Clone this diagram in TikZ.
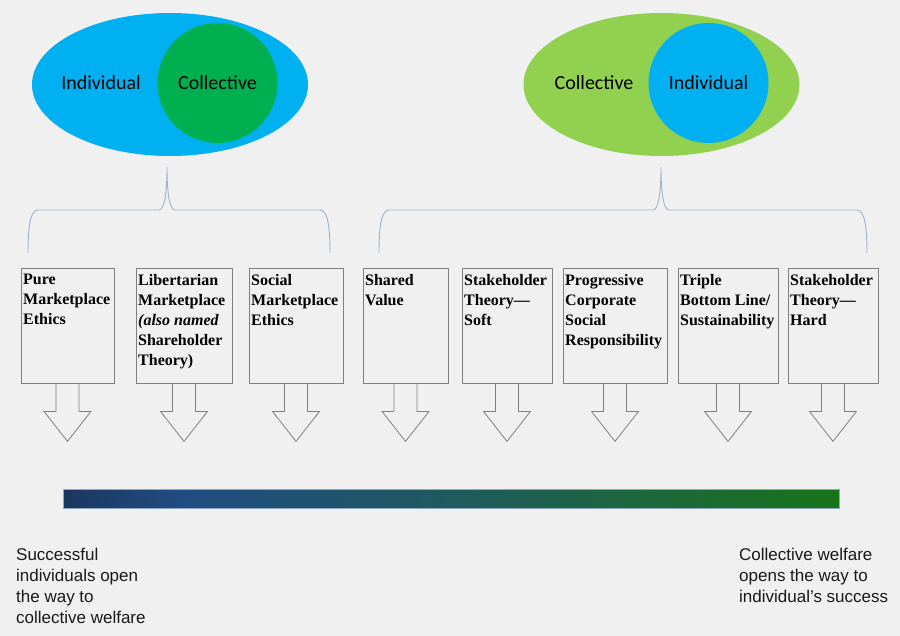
\documentclass[tikz,border=0pt]{standalone}
\usepackage{fontspec}
\setmainfont{Liberation Serif}
\newfontfamily\calfont{Carlito}
\newfontfamily\arialfont{Liberation Sans}
\usetikzlibrary{shapes.geometric}
\definecolor{bg}{HTML}{F0F0F0}
\definecolor{cblue}{HTML}{00B0F0}
\definecolor{cgreen}{HTML}{00B050}
\definecolor{lgreen}{HTML}{92D050}
\definecolor{bracecol}{HTML}{9DB3CC}
\definecolor{boxline}{HTML}{7F7F7F}
\definecolor{barA}{HTML}{1B365F}
\definecolor{barB}{HTML}{214C82}
\definecolor{barC}{HTML}{1F5A5E}
\definecolor{barD}{HTML}{18741A}
\definecolor{barline}{HTML}{8EA9C8}
\pgfdeclarehorizontalshading{barshade}{100bp}{color(0bp)=(barA); color(25bp)=(barA); color(32.5bp)=(barB); color(50bp)=(barC); color(75bp)=(barD); color(100bp)=(barD)}
\tikzset{
  ell/.style={ellipse, inner sep=0pt, minimum width=276pt, minimum height=143pt},
  circ/.style={circle, inner sep=0pt, minimum size=120pt, font=\calfont\fontsize{20}{24}\selectfont},
  elltxt/.style={inner sep=0pt, font=\calfont\fontsize{20}{24}\selectfont},
  bracest/.style={draw=bracecol, line width=0.9pt},
  calbox/.style={draw=boxline, line width=0.8pt, rectangle, inner sep=0pt, minimum height=115pt},
  calline/.style={draw=boxline, line width=0.8pt, line join=miter},
  boxtxt/.style={anchor=north west, inner sep=0pt, align=left, font=\fontsize{16}{20}\selectfont\bfseries},
  bottxt/.style={anchor=north west, inner sep=0pt, align=left, text=black!90, font=\arialfont\fontsize{17}{21}\selectfont},
}
\newcommand\callout[4]{%
  \node[calbox, minimum width=#3pt-#2pt] (#1) at ({(#2+#3)/2},325.5) {};
  \node[boxtxt] (#1t) at (#2+2,274) {#4};
  \draw[calline] (#1.south) ++(-11.5,0) -- ++(0,28) -- ++(-12,0) -- ++(23.5,30) -- ++(23.5,-30) -- ++(-12,0) -- ++(0,-28);
}
\begin{document}
\begin{tikzpicture}[x=1pt,y=-1pt]
\fill[bg] (0,0) rectangle (900,636);
\useasboundingbox (0,0) rectangle (900,636);
% left ellipse
\node[ell, fill=cblue] (LE) at (170,84.5) {};
\node[circ, fill=cgreen] (LC) at (217.5,83) {Collective};
\node[elltxt] (LI) at (101,83) {Individual};
% right ellipse
\node[ell, fill=lgreen] (RE) at (661.5,84.5) {};
\node[circ, fill=cblue] (RC) at (708.5,83) {Individual};
\node[elltxt] (RI) at (594,83) {Collective};
% braces
\coordinate (LB1) at (28,253);
\coordinate (LBt) at (167,167);
\coordinate (LB2) at (330,253);
\draw[bracest] (LB1) .. controls (28,228) and (30,210) .. (38,210) -- (159,210)
  .. controls (164,210) and (167,195) .. (LBt)
  .. controls (167,195) and (170,210) .. (175,210) -- (320,210)
  .. controls (328,210) and (330,228) .. (LB2);
\coordinate (RB1) at (379,253);
\coordinate (RBt) at (661,167);
\coordinate (RB2) at (867,253);
\draw[bracest] (RB1) .. controls (379,228) and (381,210) .. (389,210) -- (653,210)
  .. controls (658,210) and (661,195) .. (RBt)
  .. controls (661,195) and (664,210) .. (669,210) -- (857,210)
  .. controls (865,210) and (867,228) .. (RB2);
% callouts
\callout{b1}{21}{114}{Pure\\Marketplace\\Ethics}
\callout{b2}{136}{232}{Libertarian\\Marketplace\\\textit{(also named}\\Shareholder\\Theory)}
\callout{b3}{249}{343}{Social\\Marketplace\\Ethics}
\callout{b4}{363}{448}{Shared\\Value}
\callout{b5}{462}{552}{Stakeholder\\Theory—\\Soft}
\callout{b6}{563}{667}{Progressive\\Corporate\\Social\\Responsibility}
\callout{b7}{678}{778}{Triple\\Bottom Line/\\Sustainability}
\callout{b8}{788}{878}{Stakeholder\\Theory—\\Hard}
% gradient bar
\shade[shading=barshade, draw=barline, line width=0.8pt] (63,489) rectangle (839,508);
% bottom texts
\node[bottxt] (tl) at (16,548) {Successful\\individuals open\\the way to\\collective welfare};
\node[bottxt] (tr) at (739,548) {Collective welfare\\opens the way to\\individual’s success};
\end{tikzpicture}
\end{document}
